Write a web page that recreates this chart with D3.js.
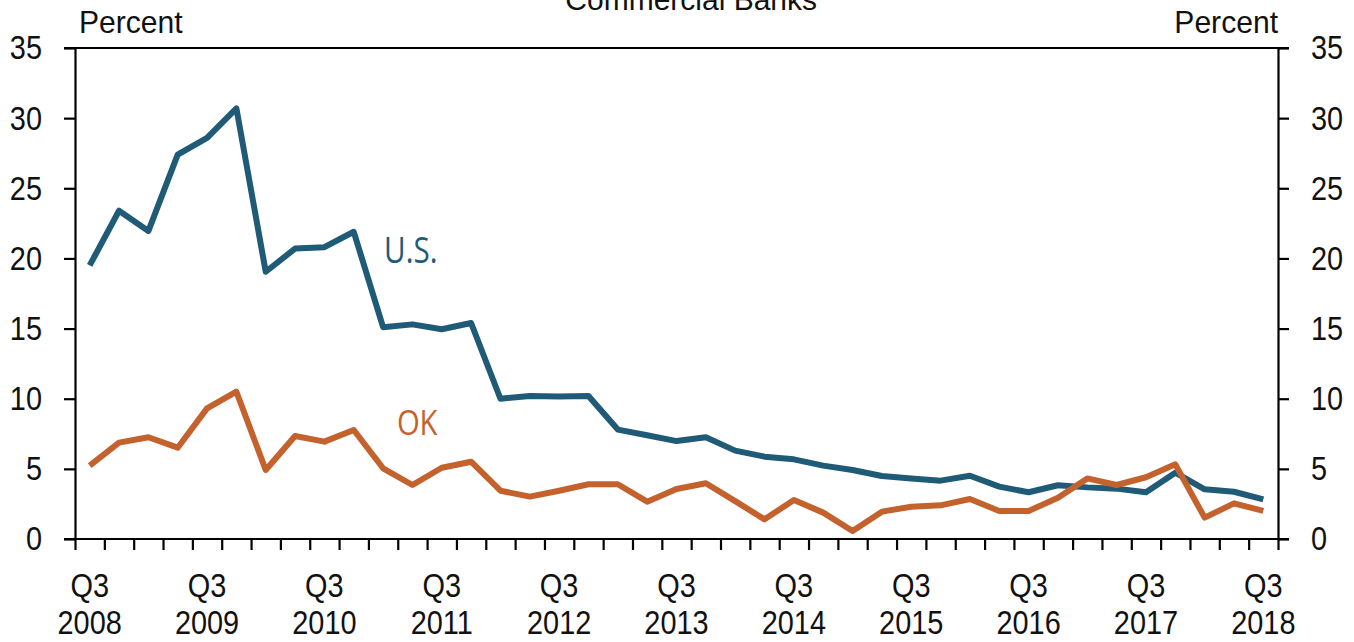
<!DOCTYPE html>
<html>
<head>
<meta charset="utf-8">
<script src="https://cdn.jsdelivr.net/npm/d3@7"></script>
<style>
  body { margin: 0; background: #fff; }
  .chart-container { width: 1354px; height: 642px; overflow: hidden; }
  text { font-family: "Liberation Sans", Arial, sans-serif; fill: #111; }
</style>
</head>
<body>
<div class="chart-container"></div>
<script>
// quarterly data, Q3 2008 .. Q3 2018
var quarters = [];
for (var yr = 2008; yr <= 2018; yr++) {
  ["Q1", "Q2", "Q3", "Q4"].forEach(function(q) {
    if ((yr === 2008 && (q === "Q1" || q === "Q2")) || (yr === 2018 && q === "Q4")) return;
    quarters.push(q + " " + yr);
  });
}

var usValues = [19.5, 23.4, 21.95, 27.4, 28.6, 30.7, 19.05, 20.7, 20.8, 21.9,
                15.1, 15.3, 14.95, 15.4, 10.0, 10.2, 10.15, 10.2, 7.8, 7.4,
                6.98, 7.25, 6.3, 5.87, 5.68, 5.23, 4.92, 4.49, 4.32, 4.16,
                4.51, 3.73, 3.33, 3.83, 3.68, 3.59, 3.33, 4.73, 3.54, 3.37, 2.83];

var okValues = [5.23, 6.87, 7.25, 6.51, 9.31, 10.5, 4.92, 7.34, 6.94, 7.77,
                5.04, 3.85, 5.08, 5.51, 3.44, 3.02, 3.44, 3.9, 3.9, 2.66,
                3.56, 3.97, 2.7, 1.4, 2.78, 1.88, 0.57, 1.95, 2.3, 2.4,
                2.85, 2.0, 2.0, 2.94, 4.32, 3.85, 4.4, 5.32, 1.52, 2.54, 2.0];

var yTicks = [0, 5, 10, 15, 20, 25, 30, 35];

var margin = {top: 48, right: 76, bottom: 103, left: 75},
    width = 1354 - margin.left - margin.right,
    height = 642 - margin.top - margin.bottom;

var svg = d3.select(".chart-container").append("svg")
    .attr("width", 1354)
    .attr("height", 642)
  .append("g")
    .attr("transform", "translate(" + margin.left + "," + margin.top + ")");

// squeeze text to look like the condensed face of the original,
// re-anchoring at start so the squeeze keeps the intended position
function condense(sel, factor) {
  sel.each(function() {
    var t = d3.select(this);
    var w = this.getComputedTextLength();
    var anchor = t.attr("text-anchor") || window.getComputedStyle(this).textAnchor || "start";
    var x0 = +t.attr("x") || 0;
    var nw = w * factor;
    if (anchor === "middle") x0 -= nw / 2;
    else if (anchor === "end") x0 -= nw;
    t.attr("text-anchor", "start").style("text-anchor", "start")
     .attr("x", x0)
     .attr("textLength", nw).attr("lengthAdjust", "spacingAndGlyphs");
  });
}

// x: one band per quarter, ticks on the band edges
var x = d3.scaleLinear().domain([0, quarters.length]).range([0, width]);
var y = d3.scaleLinear().domain([0, 35]).range([height, 0]);

function styleAxis(g) {
  g.selectAll("path, line").attr("stroke", "#000").attr("stroke-width", 2.2);
  g.selectAll("text").style("font-size", "34px").attr("fill", "#111").call(condense, 0.85);
}

// top border
svg.append("line")
    .attr("x1", -11).attr("x2", width + 11)
    .attr("y1", y(35)).attr("y2", y(35))
    .attr("stroke", "#000").attr("stroke-width", 2.2);

// left / right axes
svg.append("g")
    .call(d3.axisLeft(y).tickValues(yTicks).tickSize(11).tickSizeOuter(0).tickPadding(22))
    .call(styleAxis);

svg.append("g")
    .attr("transform", "translate(" + width + ",0)")
    .call(d3.axisRight(y).tickValues(yTicks).tickSize(11).tickSizeOuter(0).tickPadding(22))
    .call(styleAxis);

// bottom axis ticks
svg.append("g")
    .attr("transform", "translate(0," + height + ")")
    .call(d3.axisBottom(x).tickValues(d3.range(0, quarters.length + 1)).tickSize(11).tickSizeOuter(0).tickFormat(""))
    .call(styleAxis)
    .select(".domain").remove();

svg.append("line")
    .attr("x1", -11).attr("x2", width + 11)
    .attr("y1", height).attr("y2", height)
    .attr("stroke", "#000").attr("stroke-width", 2.2);

// Q3 labels, two lines
var labelIdx = d3.range(0, quarters.length).filter(function(i) { return quarters[i].indexOf("Q3") === 0; });
var xl = svg.append("g").attr("transform", "translate(0," + height + ")");
xl.selectAll(".qlab")
    .data(labelIdx)
  .enter().append("text")
    .attr("class", "qlab")
    .attr("x", function(i) { return x(i + 0.5); })
    .attr("y", 58)
    .attr("text-anchor", "middle")
    .style("font-size", "34px")
    .text(function(i) { return quarters[i].split(" ")[0]; })
    .call(condense, 0.85);
xl.selectAll(".ylab")
    .data(labelIdx)
  .enter().append("text")
    .attr("class", "ylab")
    .attr("x", function(i) { return x(i + 0.5); })
    .attr("y", 95)
    .attr("text-anchor", "middle")
    .style("font-size", "34px")
    .text(function(i) { return quarters[i].split(" ")[1]; })
    .call(condense, 0.85);

// unit labels
svg.append("text").attr("x", 4).attr("y", -15).style("font-size", "32px").text("Percent").call(condense, 0.94);
svg.append("text").attr("x", width).attr("y", -15).attr("text-anchor", "end").style("font-size", "32px").text("Percent").call(condense, 0.94);

// title (clipped at top, as in the original)
svg.append("text")
    .attr("x", x(21)).attr("y", -38)
    .attr("text-anchor", "middle")
    .style("font-size", "30px")
    .text("Commercial Banks");

var line = d3.line()
    .x(function(d, i) { return x(i + 0.5); })
    .y(function(d) { return y(d); });

svg.append("path")
    .datum(usValues)
    .attr("fill", "none")
    .attr("stroke", "#1f5b77")
    .attr("stroke-width", 6)
    .attr("stroke-linejoin", "round")
    .attr("d", line);

svg.append("path")
    .datum(okValues)
    .attr("fill", "none")
    .attr("stroke", "#c4622d")
    .attr("stroke-width", 6)
    .attr("stroke-linejoin", "round")
    .attr("d", line);

// series labels
svg.append("text")
    .attr("x", x(10.5) + 1).attr("y", y(19.7))
    .style("font-family", "'Open Sans', 'Noto Sans', sans-serif")
    .style("font-size", "37px").style("fill", "#1f5b77")
    .text("U.S.")
    .call(condense, 0.8);
svg.append("text")
    .attr("x", x(10.97)).attr("y", y(7.4))
    .style("font-family", "'Open Sans', 'Noto Sans', sans-serif")
    .style("font-size", "34px").style("fill", "#c4622d")
    .text("OK")
    .call(condense, 0.86);
</script>
</body>
</html>
